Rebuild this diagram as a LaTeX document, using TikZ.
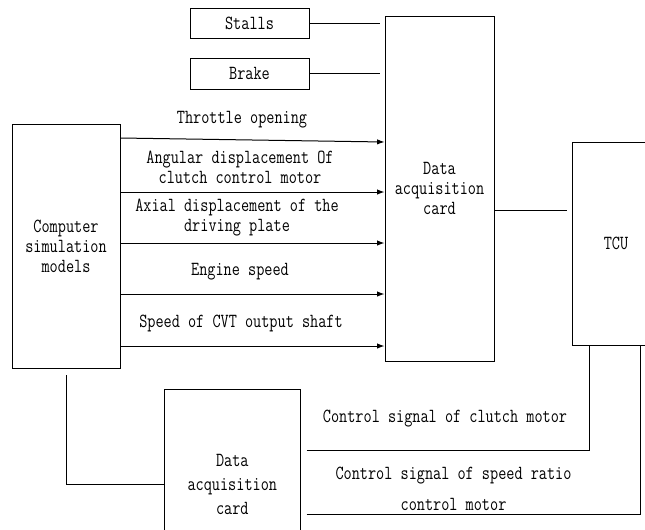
\documentclass[tikz,border=0pt]{standalone}
\usepackage{fontspec}
\usetikzlibrary{arrows.meta}
\newfontfamily\dfont[FakeStretch=0.79]{Latin Modern Mono}
\newlength\pxu
\setlength\pxu{0.75pt}
\begin{document}
\begin{tikzpicture}[x=0.75pt,y=-0.75pt,
  line width=0.75pt,
  txt/.style={font=\dfont\fontsize{15pt}{15pt}\selectfont, align=center, inner sep=0pt},
  box/.style={draw, txt, minimum width=#1},
  arr/.style={-{Latex[length=5.5pt,width=4pt]}}]
\useasboundingbox (0,0) rectangle (645,529);
\clip (0,0) rectangle (645,529);
% boxes
\node[box=119\pxu, minimum height=30\pxu] (stalls) at (249.5,23) {Stalls};
\node[box=119\pxu, minimum height=31\pxu] (brake) at (249.5,73.5) {Brake};
\node[box=109\pxu, minimum height=345\pxu] (daq) at (439.5,188.5) {Data\\acquisition\\card};
\node[box=108\pxu, minimum height=244\pxu] (comp) at (66,246) {Computer\\simulation\\models};
\node[box=88\pxu, minimum height=203\pxu] (tcu) at (616,243.5) {TCU};
\node[box=135.4\pxu, minimum height=190\pxu] (bdaq) at (232.3,484) {Data\\[3pt]acquisition\\[3pt]card};
% free ends
\coordinate (s1) at (380,23);
\coordinate (b1) at (380,73);
\coordinate (t1) at (566.7,210);
\coordinate (c1) at (66.7,375);
\coordinate (k1) at (306.6,450);
\coordinate (k2) at (306.6,514);
% connectors
\draw (stalls.east) -- (s1);
\draw (brake.east |- b1) -- (b1);
\draw[arr] (comp.east |- 0,138) -- (daq.west |- 0,142);
\draw[arr] (comp.east |- 0,192) -- (daq.west |- 0,192);
\draw[arr] (comp.east |- 0,243) -- (daq.west |- 0,243);
\draw[arr] (comp.east |- 0,294) -- (daq.west |- 0,294);
\draw[arr] (comp.east |- 0,346) -- (daq.west |- 0,346);
\draw (daq.east |- t1) -- (t1);
\draw (c1) |- (bdaq.west);
\draw (k1) -| (tcu.south -| 589.3,0);
\draw (k2) -| (tcu.south -| 640,0);
% labels
\node[txt] (l1) at (242,120) {Throttle opening};
\node[txt] (l2) at (240,167) {Angular displacement Of\\clutch control motor};
\node[txt] (l3) at (237,218) {Axial displacement of the\\driving plate};
\node[txt] (l4) at (240,272) {Engine speed};
\node[txt] (l5) at (241,323) {Speed of CVT output shaft};
\node[txt] (l6) at (445,419) {Control signal of clutch motor};
\node[txt] (l7) at (453.5,489) {Control signal of speed ratio\\[8.7pt]control motor};
\end{tikzpicture}
\end{document}
